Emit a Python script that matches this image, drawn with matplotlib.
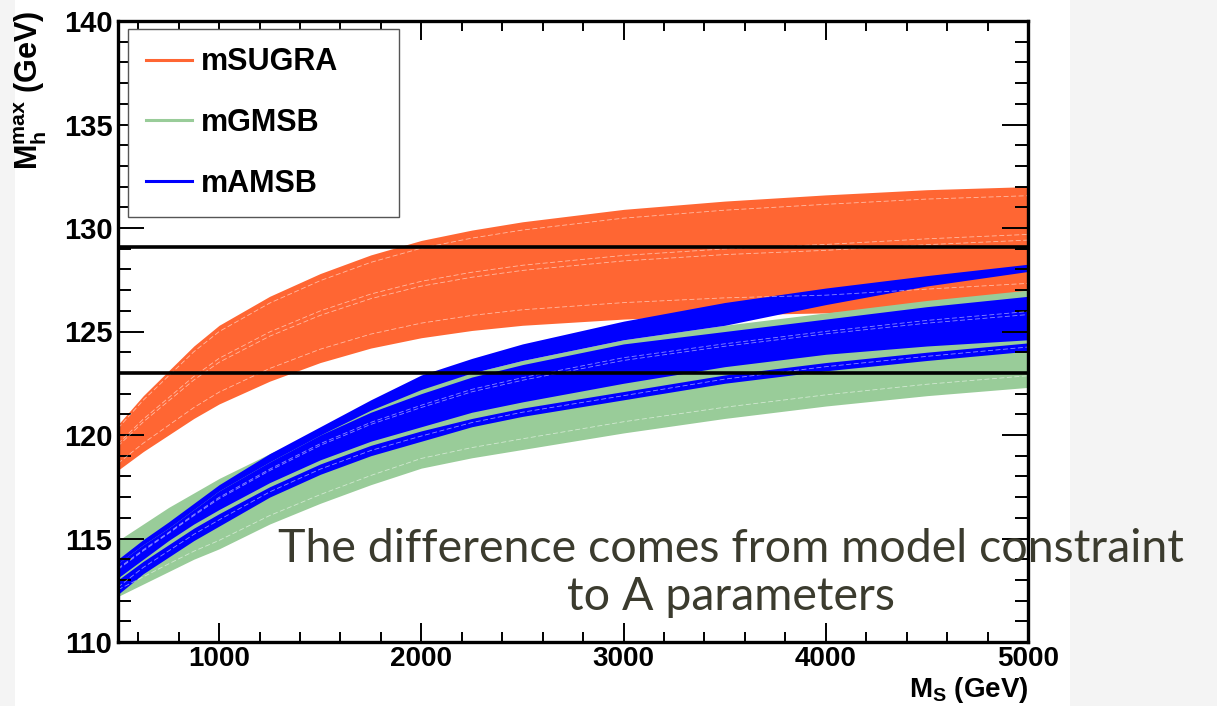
import numpy as np
import matplotlib
matplotlib.use("Agg")
import matplotlib.pyplot as plt
from matplotlib.patches import Rectangle
from matplotlib.ticker import MultipleLocator

plt.rcParams['font.family'] = ['Liberation Sans', 'DejaVu Sans']
plt.rcParams['mathtext.fontset'] = 'custom'
plt.rcParams['mathtext.bf'] = 'Liberation Sans:bold'
plt.rcParams['mathtext.rm'] = 'Liberation Sans:bold'

# M_S (GeV)
ms = [500, 625, 750, 875, 1000, 1250, 1500, 1750, 2000, 2250, 2500, 3000, 3500, 4000, 4500, 5000]

# mSUGRA band
sugra_hi = [120.5, 121.9, 123.1, 124.3, 125.3, 126.7, 127.8, 128.7, 129.4, 129.9, 130.3,
            130.9, 131.3, 131.6, 131.85, 132.0]
sugra_lo = [118.3, 119.2, 120.0, 120.8, 121.5, 122.6, 123.5, 124.2, 124.7, 125.05, 125.3,
            125.6, 125.8, 125.9, 126.2, 126.5]

# mGMSB band
gmsb_hi = [114.9, 115.7, 116.5, 117.2, 117.9, 119.1, 120.2, 121.3, 122.3, 123.0, 123.6,
           124.6, 125.3, 125.9, 126.5, 127.0]
gmsb_lo = [112.2, 112.8, 113.4, 114.0, 114.5, 115.7, 116.7, 117.6, 118.4, 118.9, 119.3,
           120.1, 120.8, 121.4, 121.9, 122.3]

# mAMSB: three sub-bands (top line, body, lower strip)
amsb_top = [114.0, 114.95, 115.8, 116.7, 117.6, 119.1, 120.4, 121.7, 122.9, 123.7, 124.4,
            125.5, 126.4, 127.1, 127.7, 128.25]
amsb_a_lo = [113.8, 114.7, 115.5, 116.4, 117.3, 118.7, 120.0, 121.2, 122.2, 123.0, 123.6,
             124.6, 125.3, 126.3, 127.2, 127.9]
amsb_b_hi = [113.8, 114.7, 115.5, 116.4, 117.3, 118.7, 120.0, 121.1, 122.0, 122.8, 123.4,
             124.4, 125.0, 125.6, 126.2, 126.7]
amsb_b_lo = [113.1, 114.0, 114.9, 115.7, 116.4, 117.7, 118.8, 119.7, 120.4, 121.1, 121.6,
             122.5, 123.3, 123.9, 124.3, 124.6]
amsb_c_hi = [113.0, 113.9, 114.7, 115.5, 116.2, 117.5, 118.6, 119.5, 120.2, 120.8, 121.3,
             122.1, 122.9, 123.5, 124.0, 124.45]
amsb_bot = [112.3, 113.3, 114.1, 114.9, 115.6, 117.0, 118.1, 119.0, 119.7, 120.4, 120.9,
            121.7, 122.5, 123.1, 123.6, 124.05]

hlines = [129.1, 123.0]

c_sugra = '#ff6633'
c_gmsb = '#99cc99'
c_amsb = '#0000ff'

W, H = 1217, 706
fig = plt.figure(figsize=(W / 100, H / 100), dpi=100, facecolor='#f4f4f4')
fig.add_artist(Rectangle((15 / W, 0), (1070 - 15) / W, 1, transform=fig.transFigure,
                         facecolor='white', edgecolor='none', zorder=-10))

ax = fig.add_axes([118 / W, 1 - 642 / H, (1028 - 118) / W, (642 - 21) / H])
ax.set_facecolor('white')

x = np.array(ms)


def band(hi, lo, color, fracs):
    hi = np.array(hi)
    lo = np.array(lo)
    ax.fill_between(x, lo, hi, color=color, lw=0)
    for f in fracs:
        ax.plot(x, hi - f * (hi - lo), color='white', lw=0.6, alpha=0.55, ls=(0, (6, 3)))


band(sugra_hi, sugra_lo, c_sugra, [0.08, 0.42, 0.47, 0.85])
band(gmsb_hi, gmsb_lo, c_gmsb, [0.88])
band(amsb_top, amsb_a_lo, c_amsb, [])
band(amsb_b_hi, amsb_b_lo, c_amsb, [0.35, 0.42])
band(amsb_c_hi, amsb_bot, c_amsb, [0.5])

for h in hlines:
    ax.axhline(h, color='black', lw=2.6)

ax.plot([], [], color=c_sugra, lw=2.2, label='mSUGRA')
ax.plot([], [], color=c_gmsb, lw=2.2, label='mGMSB')
ax.plot([], [], color=c_amsb, lw=2.2, label='mAMSB')
leg = ax.legend(loc='upper left', bbox_to_anchor=(0.011, 0.987, 0.298, 0.0), mode='expand',
                fancybox=False, edgecolor='#555555', framealpha=1,
                prop={'weight': 'bold', 'size': 22}, handlelength=1.5, handletextpad=0.3,
                labelspacing=1.0, borderpad=0.6, borderaxespad=0)
leg.get_frame().set_linewidth(1.0)

ax.set_xlim(500, 5000)
ax.set_ylim(110, 140)
ax.xaxis.set_minor_locator(MultipleLocator(200))
ax.yaxis.set_minor_locator(MultipleLocator(1))
ax.set_xticks([1000, 2000, 3000, 4000, 5000])
ax.set_xticklabels(['1000', '2000', '3000', '4000', '5000'], fontweight='bold', fontsize=20)
ax.set_yticks([110, 115, 120, 125, 130, 135, 140])
ax.set_yticklabels(['110', '115', '120', '125', '130', '135', '140'], fontweight='bold', fontsize=21)
ax.tick_params(axis='both', which='both', direction='in', top=True, right=True, width=1.4)
ax.tick_params(axis='x', which='major', length=13.5, pad=3)
ax.tick_params(axis='x', which='minor', length=7)
ax.tick_params(axis='y', which='major', length=18.5, pad=4)
ax.tick_params(axis='y', which='minor', length=9.5)
for s in ax.spines.values():
    s.set_linewidth(2.4)

fig.text(49 / W, 1 - 10 / H, r'$\mathbf{M_{h}^{max}}$ (GeV)', rotation=90, ha='right', va='top',
         fontsize=22, fontweight='bold')
fig.text(1028 / W, 1 - 697 / H, r'$\mathbf{M_{S}}$ (GeV)', ha='right', va='baseline',
         fontsize=20, fontweight='bold')

fig.text(731 / W, 1 - 610 / H, 'The difference comes from model constraint\nto A parameters',
         ha='center', va='baseline', multialignment='center', fontsize=33.5, color='#3b3b2e',
         family=['Lato', 'DejaVu Sans'], fontweight='normal', linespacing=1.17, zorder=5)

fig.savefig('out.png', dpi=100, facecolor=fig.get_facecolor())
